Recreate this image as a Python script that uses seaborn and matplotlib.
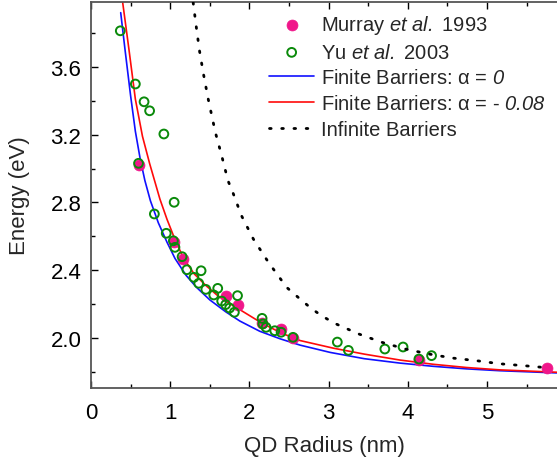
import numpy as np
import pandas as pd
import matplotlib
matplotlib.use("Agg")
import matplotlib.pyplot as plt
from matplotlib.ticker import MultipleLocator, FormatStrFormatter
import seaborn as sns

# ---- data ----
murray_r = [0.60, 1.05, 1.16, 1.71, 1.86, 2.16, 2.40, 2.55, 4.14, 5.76]
murray_e = [3.022, 2.565, 2.466, 2.246, 2.195, 2.088, 2.053, 1.998, 1.870, 1.821]

yu_r = [0.37, 0.56, 0.67, 0.74, 0.92, 0.60, 1.05, 0.80, 0.95, 1.04, 1.06, 1.15, 1.21,
        1.39, 1.30, 1.36, 1.45, 1.60, 1.55, 1.85, 1.65, 1.70, 1.75, 1.81, 2.16, 2.17,
        2.21, 2.32, 2.40, 2.55, 3.11, 3.25, 3.71, 3.94, 4.14, 4.30]
yu_e = [3.813, 3.499, 3.394, 3.341, 3.204, 3.031, 2.801, 2.732, 2.618, 2.574, 2.535,
        2.480, 2.403, 2.397, 2.358, 2.323, 2.287, 2.293, 2.254, 2.250, 2.218, 2.197,
        2.177, 2.152, 2.116, 2.083, 2.063, 2.043, 2.034, 2.004, 1.976, 1.927, 1.935,
        1.947, 1.876, 1.896]

blue_r = [0.375, 0.43, 0.50, 0.56, 0.62, 0.68, 0.75, 0.85, 0.96, 1.06, 1.20, 1.33, 1.50,
          1.70, 1.88, 2.13, 2.39, 2.64, 3.02, 3.45, 3.90, 4.32, 4.74, 5.16, 5.88]
blue_e = [3.92, 3.70, 3.43, 3.22, 3.06, 2.93, 2.81, 2.68, 2.565, 2.47, 2.37, 2.30, 2.225,
          2.155, 2.10, 2.04, 1.995, 1.958, 1.915, 1.878, 1.852, 1.833, 1.818, 1.807, 1.794]

red_r = [0.40, 0.48, 0.56, 0.65, 0.74, 0.87, 0.96, 1.07, 1.17, 1.30, 1.45, 1.60, 1.71,
         1.87, 2.15, 2.40, 2.64, 3.06, 3.45, 3.90, 4.32, 4.74, 5.16, 5.88]
red_e = [3.98, 3.70, 3.41, 3.19, 3.03, 2.82, 2.70, 2.57, 2.47, 2.38, 2.31, 2.25, 2.215,
         2.17, 2.09, 2.03, 1.985, 1.94, 1.905, 1.870, 1.845, 1.826, 1.812, 1.798]

inf_r = [1.29, 1.33, 1.37, 1.42, 1.48, 1.57, 1.65, 1.73, 1.79, 1.90, 2.05, 2.24, 2.47,
         2.64, 2.78, 2.91, 3.07, 3.38, 3.67, 3.97, 4.26, 4.56, 4.87, 5.16, 5.46, 5.75]
inf_e = [3.98, 3.833, 3.695, 3.558, 3.410, 3.214, 3.076, 2.928, 2.860, 2.722, 2.584,
         2.447, 2.299, 2.230, 2.175, 2.132, 2.088, 2.024, 1.975, 1.935, 1.906, 1.882,
         1.866, 1.848, 1.837, 1.825]

x_ticks = [0, 1, 2, 3, 4, 5]
y_ticks = [2.0, 2.4, 2.8, 3.2, 3.6]

# ---- styling ----
sns.set_theme(style="ticks")
plt.rcParams["font.family"] = ["Liberation Sans", "DejaVu Sans"]
plt.rcParams["mathtext.fontset"] = "custom"
plt.rcParams["mathtext.rm"] = "Liberation Sans:italic"
plt.rcParams["mathtext.it"] = "Liberation Sans:italic"
plt.rcParams["mathtext.default"] = "it"

fig = plt.figure(figsize=(5.57, 4.60), dpi=100)
ax = fig.add_axes([91 / 557, 71 / 460, 467.3 / 557, 386 / 460])

df_m = pd.DataFrame({"r": murray_r, "e": murray_e})
df_y = pd.DataFrame({"r": yu_r, "e": yu_e})
df_b = pd.DataFrame({"r": blue_r, "e": blue_e})
df_rd = pd.DataFrame({"r": red_r, "e": red_e})
df_i = pd.DataFrame({"r": inf_r, "e": inf_e})

pink = "#F0168A"
green = "#0A8A0A"

sns.scatterplot(data=df_m, x="r", y="e", ax=ax, color=pink, s=62, edgecolor=pink,
                linewidth=0.5, marker="o", label=r"Murray $et\ al.$ 1993", zorder=3)
sns.scatterplot(data=df_y, x="r", y="e", ax=ax, facecolor="none", edgecolor=green,
                s=40, linewidth=1.4, marker="o", label=r"Yu $et\ al.$ 2003", zorder=4)
sns.lineplot(data=df_b, x="r", y="e", ax=ax, sort=False, color="#1010FF", lw=1.2,
             label=r"Finite Barriers: α = $0$", zorder=2)
sns.lineplot(data=df_rd, x="r", y="e", ax=ax, sort=False, color="#FF0A0A", lw=1.2,
             label=r"Finite Barriers: α = - $0.08$", zorder=2)
sns.lineplot(data=df_i, x="r", y="e", ax=ax, sort=False, color="black", lw=2.0,
             linestyle=(0, (0.6, 3.8)), dash_capstyle="round",
             label="Infinite Barriers", zorder=5)

ax.set_xlim(0, 5.9)
ax.set_ylim(1.705, 3.983)
ax.set_xticks(x_ticks)
ax.set_yticks(y_ticks)
ax.xaxis.set_minor_locator(MultipleLocator(0.5))
ax.yaxis.set_minor_locator(MultipleLocator(0.2))
ax.yaxis.set_major_formatter(FormatStrFormatter("%.1f"))
ax.tick_params(which="both", direction="in", top=True, right=False,
               labelsize=16, colors="black", width=1.0)
ax.tick_params(which="major", length=5)
ax.tick_params(axis="y", which="major", pad=7)
ax.tick_params(axis="x", which="major", pad=10)
ax.tick_params(which="minor", length=3)
for sp in ["left", "bottom", "top"]:
    ax.spines[sp].set_color("#555555")
    ax.spines[sp].set_linewidth(1.3)
ax.spines["right"].set_visible(False)

ax.set_xlabel("QD Radius (nm)", fontsize=16, labelpad=9)
ax.set_ylabel("Energy (eV)", fontsize=16, labelpad=15)

ax.legend(loc="upper left", bbox_to_anchor=(269 / 557, 1 - 14 / 460),
          bbox_transform=fig.transFigure, frameon=False, fontsize=14.5,
          handlelength=2.25, handletextpad=0.35, labelspacing=0.33,
          borderpad=0, borderaxespad=0, markerscale=1.0)

fig.savefig("out.png", dpi=100)
